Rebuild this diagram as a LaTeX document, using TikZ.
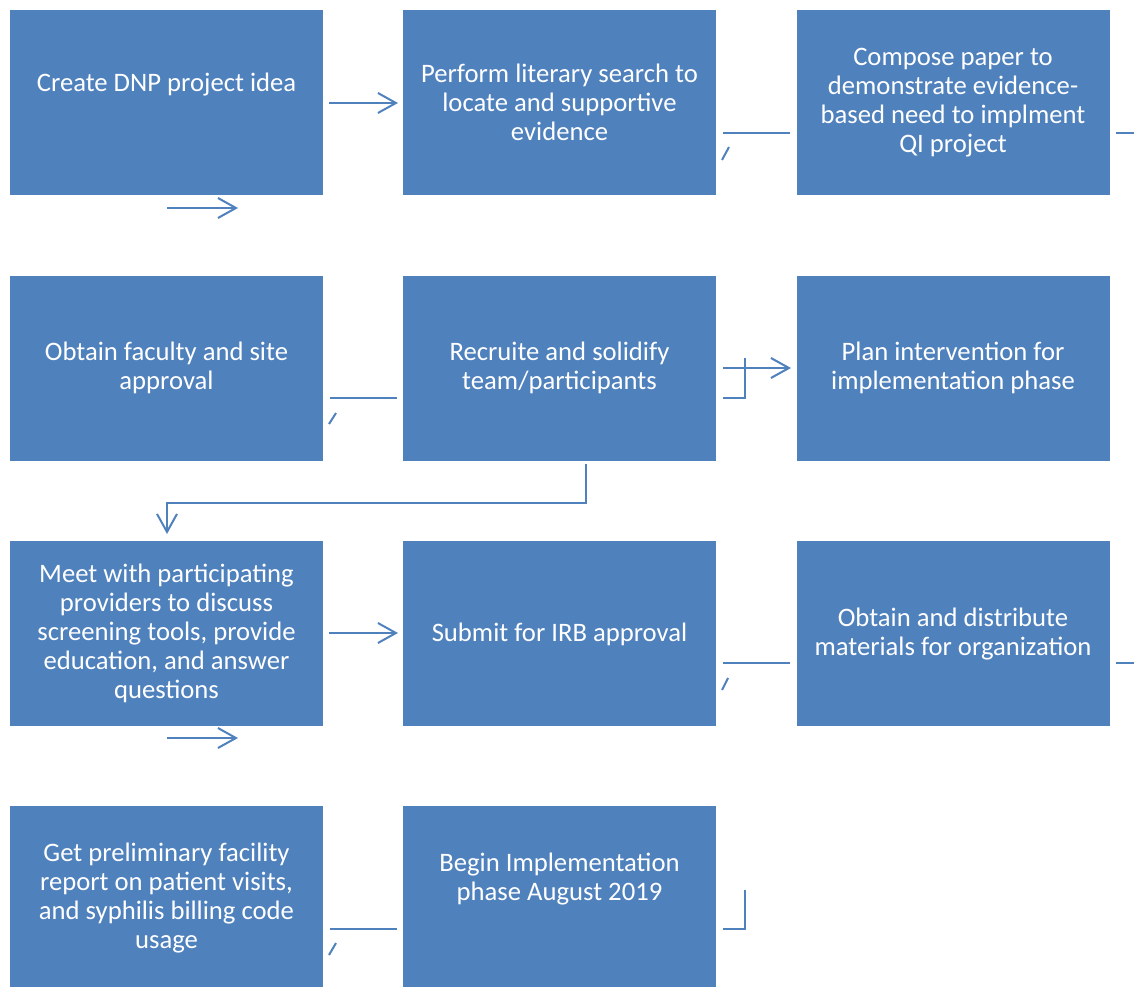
\documentclass[tikz,border=0pt]{standalone}
\usepackage{fontspec}
\setmainfont{Carlito}
\usetikzlibrary{arrows.meta}
\definecolor{boxblue}{HTML}{4F81BD}
\tikzset{
  box/.style={fill=boxblue, draw=none, minimum width=234.75pt, minimum height=138.75pt, inner sep=0pt, outer sep=0pt},
  lbl/.style={text=white, font=\fontsize{20pt}{21.75pt}\selectfont, align=center, inner sep=0pt},
  conn/.style={draw=boxblue, line width=1.5pt},
  arr/.style={conn, -{Straight Barb[length=13.5pt,width=15pt,line width=1.5pt]}}
}
\begin{document}
\begin{tikzpicture}[x=0.75pt,y=-0.75pt]
\useasboundingbox (0,0) rectangle (1134,987);
% boxes
\node[box] (b11) at (166.5,102.5) {};
\node[box] (b12) at (559.5,102.5) {};
\node[box] (b13) at (953,102.5) {};
\node[box] (b21) at (166.5,368.5) {};
\node[box] (b22) at (559.5,368.5) {};
\node[box] (b23) at (953,368.5) {};
\node[box] (b31) at (166.5,633.5) {};
\node[box] (b32) at (559.5,633.5) {};
\node[box] (b33) at (953,633.5) {};
\node[box] (b41) at (166.5,898.5) {};
\node[box] (b42) at (559.5,898.5) {};
% texts
\node[lbl] (t11) at (166.5,84.5) {Create DNP project idea};
\node[lbl] (t12) at (559.5,102.5) {Perform literary search to\\locate and supportive\\evidence};
\node[lbl] (t13) at (953,103) {Compose paper to\\demonstrate evidence-\\based need to implment\\QI project};
\node[lbl] (t21) at (166.5,368) {Obtain faculty and site\\approval};
\node[lbl] (t22) at (559.5,368) {Recruite and solidify\\team/participants};
\node[lbl] (t23) at (953,368) {Plan intervention for\\implementation phase};
\node[lbl] (t31) at (166.5,633.5) {Meet with participating\\providers to discuss\\screening tools, provide\\education, and answer\\questions};
\node[lbl] (t32) at (559.5,634.5) {Submit for IRB approval};
\node[lbl] (t33) at (953,634) {Obtain and distribute\\materials for organization};
\node[lbl] (t41) at (166.5,898.5) {Get preliminary facility\\report on patient visits,\\and syphilis billing code\\usage};
\node[lbl] (t42) at (559.5,879) {Begin Implementation\\phase August 2019};
% coordinates
\coordinate (a1s) at (329,103); \coordinate (a1e) at (398,103);
\coordinate (a2s) at (167,208); \coordinate (a2e) at (238,208);
\coordinate (l1s) at (723,133); \coordinate (l1e) at (790,133);
\coordinate (k1s) at (722,160); \coordinate (k1e) at (729,147);
\coordinate (l2s) at (1116,133); \coordinate (l2e) at (1134,133);
\coordinate (l3s) at (330,398); \coordinate (l3e) at (397,398);
\coordinate (k3s) at (329,424); \coordinate (k3e) at (336,413);
\coordinate (a3s) at (723,368); \coordinate (a3e) at (791,368);
\coordinate (v3t) at (745,358); \coordinate (v3b) at (745,398); \coordinate (h3s) at (723,398);
\coordinate (e1) at (586,464); \coordinate (e2) at (586,503); \coordinate (e3) at (167,503); \coordinate (e4) at (167,534);
\coordinate (a4s) at (329,633); \coordinate (a4e) at (398,633);
\coordinate (a5s) at (167,738); \coordinate (a5e) at (238,738);
\coordinate (l5s) at (723,663); \coordinate (l5e) at (790,663);
\coordinate (k5s) at (722,690); \coordinate (k5e) at (728,678);
\coordinate (l6s) at (1116,663); \coordinate (l6e) at (1134,663);
\coordinate (l7s) at (330,929); \coordinate (l7e) at (397,929);
\coordinate (k7s) at (329,955); \coordinate (k7e) at (336,943);
\coordinate (v7t) at (745,890); \coordinate (v7b) at (745,929); \coordinate (h7s) at (723,929);
% connectors
\draw[arr] (a1s) -- (a1e);
\draw[arr] (a2s) -- (a2e);
\draw[conn] (l1s) -- (l1e);
\draw[conn] (k1s) -- (k1e);
\draw[conn] (l2s) -- (l2e);
\draw[conn] (l3s) -- (l3e);
\draw[conn] (k3s) -- (k3e);
\draw[arr] (a3s) -- (a3e);
\draw[conn] (v3t) -- (v3b) -- (h3s);
\draw[arr] (e1) -- (e2) -- (e3) -- (e4);
\draw[arr] (a4s) -- (a4e);
\draw[arr] (a5s) -- (a5e);
\draw[conn] (l5s) -- (l5e);
\draw[conn] (k5s) -- (k5e);
\draw[conn] (l6s) -- (l6e);
\draw[conn] (l7s) -- (l7e);
\draw[conn] (k7s) -- (k7e);
\draw[conn] (v7t) -- (v7b) -- (h7s);
\end{tikzpicture}
\end{document}
